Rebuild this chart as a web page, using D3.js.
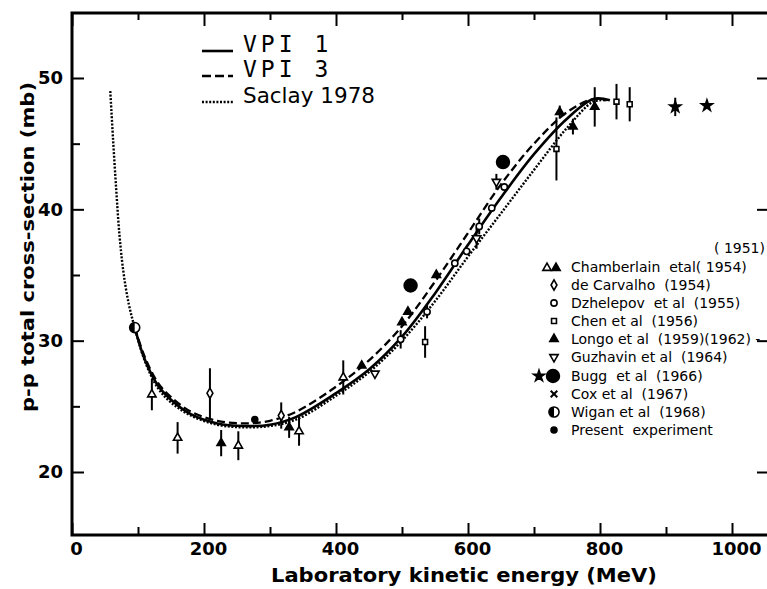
<!DOCTYPE html>
<html>
<head>
<meta charset="utf-8">
<script src="https://cdn.jsdelivr.net/npm/d3@7"></script>
<style>
  body { margin: 0; background: #fff; }
  svg { display: block; }
  text { font-family: "DejaVu Sans", sans-serif; fill: #000; }
</style>
</head>
<body>
<svg id="chart_svg"></svg>
<script>
var viewWidth = 767;
var viewHeight = 589;

// curves (energy MeV, sigma mb)
var vpi1 = [[95,31.0],[110,28.6],[130,26.6],[150,25.5],[180,24.4],[220,23.7],[260,23.5],[300,23.6],[340,24.2],[400,26.0],[450,27.8],[500,30.3],[550,33.6],[600,37.3],[650,40.9],[700,44.2],[750,46.9],[790,48.4],[815,48.3]];
var vpi3 = [[95,31.0],[110,28.8],[130,26.8],[150,25.7],[180,24.6],[220,23.9],[260,23.7],[300,23.9],[340,24.6],[400,26.5],[450,28.5],[500,31.1],[550,34.5],[600,38.2],[650,41.9],[700,45.0],[750,47.4],[790,48.4],[810,48.3]];
var saclay = [[58,49.0],[62,45.5],[67,41.5],[72,38.0],[78,35.2],[86,32.8],[95,31.0],[110,28.5],[130,26.4],[150,25.3],[180,24.3],[220,23.6],[260,23.4],[300,23.5],[340,24.0],[400,25.8],[450,27.6],[500,30.0],[550,33.0],[600,36.4],[650,39.7],[700,43.0],[750,46.2],[790,48.2],[810,48.3]];

// measurements: e = energy, s = sigma, d = error
var chamberlain = [{e:121,s:25.9,d:1.2},{e:160,s:22.6,d:1.2},{e:252,s:22.0,d:1.1},{e:344,s:23.1,d:1.1},{e:411,s:27.2,d:1.3}];
var deCarvalho = [{e:209,s:26.0,d:1.9},{e:317,s:24.3,d:1.0}];
var dzhelepov = [{e:498,s:30.1,d:0.7},{e:538,s:32.2,d:0.5},{e:580,s:35.9,d:0},{e:598,s:36.8,d:0},{e:617,s:38.7,d:0.6},{e:636,s:40.1,d:0},{e:655,s:41.7,d:0}];
var chen = [{e:535,s:29.9,d:1.2},{e:734,s:44.6,d:2.4},{e:825,s:48.2,d:1.35},{e:845,s:48.0,d:1.3}];
var longo = [{e:226,s:22.2,d:1.0},{e:329,s:23.4,d:0.8},{e:439,s:28.1,d:0},{e:500,s:31.4,d:0},{e:509,s:32.2,d:0},{e:552,s:35.0,d:0},{e:739,s:47.4,d:0.5},{e:759,s:46.3,d:0.6},{e:792,s:47.8,d:1.5}];
var guzhavin = [{e:459,s:27.5,d:0},{e:613,s:37.8,d:0.8},{e:643,s:42.1,d:0.6}];
var buggDots = [{e:513,s:34.2,d:0},{e:653,s:43.6,d:0}];
var buggStars = [{e:914,s:47.8,d:0.7},{e:962,s:47.9,d:0}];
var wigan = [{e:95,s:31.0,d:0}];
var present = [{e:277,s:24.0,d:0}];

var xMajor = [0, 200, 400, 600, 800, 1000];
var xMinor = [100, 300, 500, 700, 900];
var yMajor = [20, 30, 40, 50];
var yMinor = [25, 35, 45];

var curveLabels = ["VPI 1", "VPI 3", "Saclay 1978"];
var legendLabels = ["Chamberlain  etal( 1954)", "de Carvalho  (1954)", "Dzhelepov  et al  (1955)",
  "Chen et al  (1956)", "Longo et al  (1959)(1962) -", "Guzhavin et al  (1964)", "Bugg  et al  (1966)",
  "Cox et al  (1967)", "Wigan et al  (1968)", "Present  experiment"];
var legendKeys = ["cham", "carv", "dzh", "chen", "longo", "guz", "bugg", "cox", "wigan", "present"];

var frame = {left: 72, right: 768, top: 13, bottom: 535};

var svg = d3.select("#chart_svg")
    .attr("width", viewWidth)
    .attr("height", viewHeight);

var x = d3.scaleLinear().domain([0, 1000]).range([72, 732]);
var y = d3.scaleLinear().domain([20, 50]).range([472, 78]);

// axes, ticks inward
function styleAxis(g) {
  g.select(".domain").remove();
  g.selectAll(".tick line").attr("stroke", "#000").attr("stroke-width", 2);
  g.selectAll(".tick text")
      .style("font-family", "'DejaVu Sans', sans-serif")
      .style("font-size", "18px")
      .style("font-weight", "bold");
}

svg.append("g").attr("transform", "translate(0," + frame.bottom + ")")
    .call(d3.axisBottom(x).tickValues(xMajor).tickSizeInner(-12).tickSizeOuter(0).tickPadding(7).tickFormat(d3.format("d")))
    .call(styleAxis)
    .selectAll(".tick text").attr("dx", 4);
svg.append("g").attr("transform", "translate(0," + frame.bottom + ")")
    .call(d3.axisBottom(x).tickValues(xMinor).tickSizeInner(-8).tickSizeOuter(0).tickFormat(""))
    .call(styleAxis);
svg.append("g").attr("transform", "translate(0," + frame.top + ")")
    .call(d3.axisTop(x).tickValues(xMajor).tickSizeInner(-13).tickSizeOuter(0).tickFormat(""))
    .call(styleAxis);
svg.append("g").attr("transform", "translate(0," + frame.top + ")")
    .call(d3.axisTop(x).tickValues(xMinor).tickSizeInner(-7).tickSizeOuter(0).tickFormat(""))
    .call(styleAxis);

svg.append("g").attr("transform", "translate(" + frame.left + ",0)")
    .call(d3.axisLeft(y).tickValues(yMajor).tickSizeInner(-12).tickSizeOuter(0).tickPadding(9))
    .call(styleAxis);
svg.append("g").attr("transform", "translate(" + frame.left + ",0)")
    .call(d3.axisLeft(y).tickValues(yMinor).tickSizeInner(-8).tickSizeOuter(0).tickFormat(""))
    .call(styleAxis);
svg.append("g").attr("transform", "translate(" + (frame.right - 1) + ",0)")
    .call(d3.axisRight(y).tickValues(yMajor).tickSizeInner(-10).tickSizeOuter(0).tickFormat(""))
    .call(styleAxis);

// frame
svg.append("path")
    .attr("d", "M" + frame.right + "," + frame.top + "H" + frame.left + "V" + frame.bottom + "H" + frame.right)
    .attr("fill", "none")
    .attr("stroke", "#000")
    .attr("stroke-width", 3);

// axis titles
svg.append("text")
    .attr("x", 464)
    .attr("y", 582)
    .attr("text-anchor", "middle")
    .attr("textLength", 386)
    .attr("lengthAdjust", "spacingAndGlyphs")
    .style("font-size", "19px")
    .style("font-weight", "600")
    .text("Laboratory kinetic energy (MeV)");

svg.append("text")
    .attr("transform", "translate(34,247) rotate(-90)")
    .attr("text-anchor", "middle")
    .attr("textLength", 330)
    .attr("lengthAdjust", "spacingAndGlyphs")
    .style("font-size", "18px")
    .style("font-weight", "600")
    .text("p-p total cross-section (mb)");

// curves
var line = d3.line()
    .x(function(d) { return x(d[0]); })
    .y(function(d) { return y(d[1]); })
    .curve(d3.curveCatmullRom);

var curveStyles = [
  {data: vpi1, width: 2.6, dash: null},
  {data: vpi3, width: 2.3, dash: "8,4"},
  {data: saclay, width: 2.4, dash: "2,1.6"}
];

curveStyles.forEach(function(c) {
  svg.append("path")
      .attr("d", line(c.data))
      .attr("fill", "none")
      .attr("stroke", "#000")
      .attr("stroke-width", c.width)
      .attr("stroke-dasharray", c.dash);
});

// markers
function symbolPath(key) {
  if (key == "cham" || key == "longo" || key == "guz") return d3.symbol().type(d3.symbolTriangle).size(30)();
  if (key == "carv") return d3.symbol().type(d3.symbolDiamond).size(30)();
  if (key == "dzh") return d3.symbol().type(d3.symbolCircle).size(30)();
  if (key == "chen") return d3.symbol().type(d3.symbolSquare).size(24)();
  if (key == "bugg") return d3.symbol().type(d3.symbolCircle).size(130)();
  if (key == "star") return d3.symbol().type(d3.symbolStar).size(38)();
  if (key == "present") return d3.symbol().type(d3.symbolCircle).size(28)();
  if (key == "wigan") return d3.symbol().type(d3.symbolCircle).size(80)();
  if (key == "cox") return d3.symbol().type(d3.symbolTimes).size(30)();
  return d3.symbol()();
}

var filled = {longo: true, bugg: true, star: true, present: true};

function drawMarker(g, key, cx, cy) {
  var m = g.append("g").attr("transform", "translate(" + cx + "," + cy + ")" + (key == "guz" ? " rotate(180)" : ""));
  m.append("path")
      .attr("d", symbolPath(key))
      .attr("fill", filled[key] ? "#000" : "#fff")
      .attr("stroke", "#000")
      .attr("stroke-width", key == "cox" ? 2 : 1.6);
  if (key == "wigan") {
    m.append("path")
        .attr("d", "M0,-5A5,5 0 0,0 0,5Z")
        .attr("fill", "#000");
  }
}

var series = [
  {key: "cham", data: chamberlain},
  {key: "carv", data: deCarvalho},
  {key: "dzh", data: dzhelepov},
  {key: "chen", data: chen},
  {key: "longo", data: longo},
  {key: "guz", data: guzhavin},
  {key: "bugg", data: buggDots},
  {key: "star", data: buggStars},
  {key: "wigan", data: wigan},
  {key: "present", data: present}
];

var errG = svg.append("g");
var markG = svg.append("g");

series.forEach(function(sr) {
  errG.selectAll(null)
      .data(sr.data.filter(function(d) { return d.d > 0; }))
      .enter().append("line")
      .attr("x1", function(d) { return x(d.e); })
      .attr("x2", function(d) { return x(d.e); })
      .attr("y1", function(d) { return y(d.s - d.d); })
      .attr("y2", function(d) { return y(d.s + d.d); })
      .attr("stroke", "#000")
      .attr("stroke-width", 2);
  sr.data.forEach(function(d) {
    drawMarker(markG, sr.key, x(d.e), y(d.s));
  });
});

// legend top left
var curveLegend = svg.append("g");
curveLabels.forEach(function(label, i) {
  var ly = [51, 76, 102][i];
  curveLegend.append("line")
      .attr("x1", 202).attr("x2", 233)
      .attr("y1", ly).attr("y2", ly)
      .attr("stroke", "#000")
      .attr("stroke-width", curveStyles[i].width)
      .attr("stroke-dasharray", i == 0 ? null : (i == 1 ? "9,4" : "2,1.6"));
  var t = curveLegend.append("text")
      .attr("x", 243)
      .attr("y", ly + 1)
      .style("white-space", "pre")
      .text(label);
  if (i < 2) {
    t.style("font-family", "'DejaVu Sans Mono', monospace").style("font-size", "23px").style("letter-spacing", "4px");
  } else {
    t.style("font-size", "22px").attr("textLength", 132).attr("lengthAdjust", "spacingAndGlyphs");
  }
});

// legend right
var legend = svg.append("g");
legend.append("text")
    .attr("x", 765)
    .attr("y", 253)
    .attr("text-anchor", "end")
    .style("font-size", "14px")
    .style("white-space", "pre")
    .text("( 1951)");

legendLabels.forEach(function(label, i) {
  var ly = 267 + i * 18 + (i >= 6 ? 1 : 0);
  legend.append("text")
      .attr("x", 571)
      .attr("y", ly + 5)
      .style("font-size", "14px")
      .style("white-space", "pre")
      .text(label);
  var key = legendKeys[i];
  if (key == "cham") {
    drawMarker(legend, "cham", 547, ly + 1);
    drawMarker(legend, "longo", 556, ly + 1);
  } else if (key == "bugg") {
    drawMarker(legend, "star", 539, ly);
    drawMarker(legend, "bugg", 553, ly);
  } else {
    drawMarker(legend, key, 554, ly);
  }
});
</script>
</body>
</html>
